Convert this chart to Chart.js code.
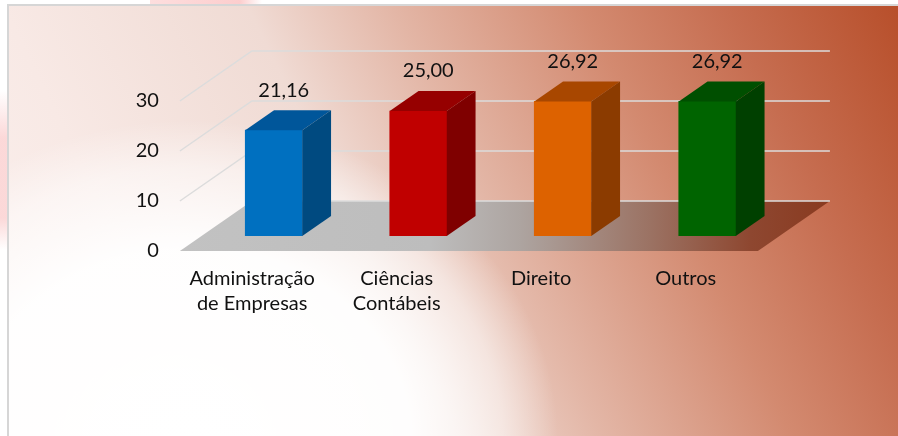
<!DOCTYPE html>
<html>
<head>
<meta charset="utf-8">
<script src="https://cdn.jsdelivr.net/npm/chart.js@4.4.0/dist/chart.umd.min.js"></script>
<style>
  html, body { margin: 0; padding: 0; background: #fff; }
  #wrap { width: 898px; height: 436px; }
</style>
</head>
<body>
<div id="wrap"><canvas id="chart" width="898" height="436"></canvas></div>
<script>
const categories = [['Administração', 'de Empresas'], ['Ciências', 'Contábeis'], ['Direito'], ['Outros']];
const values = [21.16, 25.00, 26.92, 26.92];
const yTicks = [0, 10, 20, 30];

const frontColors = ['#0070c0', '#c00000', '#dd6200', '#006400'];
const topColors = ['#00569a', '#960000', '#a84700', '#004f00'];
const sideColors = ['#004a80', '#7f0000', '#8b3b00', '#004000'];

// 3D offsets relative to the bar plane (chart area)
const FRONT = { dx: -21.6, dy: 15 };
const BACK = { dx: 50.4, dy: -35 };
const DEPTH = { dx: 28.8, dy: -20 };
const FONT = '20px Lato, "Open Sans", sans-serif';

const fmt = v => v.toFixed(2).replace('.', ',');

function poly(ctx, pts, fill) {
    ctx.beginPath();
    ctx.moveTo(pts[0][0], pts[0][1]);
    for (let i = 1; i < pts.length; i++) ctx.lineTo(pts[i][0], pts[i][1]);
    ctx.closePath();
    ctx.fillStyle = fill;
    ctx.fill();
}

const scene = {
    id: 'scene',
    beforeDraw(chart) {
        const { ctx, width: W, height: H } = chart;
        ctx.save();
        ctx.fillStyle = '#fff';
        ctx.fillRect(0, 0, W, H);

        // faint pink shapes outside the frame
        let pg = ctx.createLinearGradient(0, 90, 0, 250);
        pg.addColorStop(0, 'rgba(250,200,200,0)');
        pg.addColorStop(0.3, 'rgba(250,200,200,0.7)');
        pg.addColorStop(0.8, 'rgba(250,200,200,0.7)');
        pg.addColorStop(1, 'rgba(250,200,200,0)');
        ctx.fillStyle = pg;
        ctx.fillRect(0, 90, 7, 160);
        pg = ctx.createLinearGradient(150, 0, 262, 0);
        pg.addColorStop(0, 'rgba(252,200,200,0.6)');
        pg.addColorStop(0.8, 'rgba(252,200,200,0.9)');
        pg.addColorStop(1, 'rgba(252,200,200,0)');
        ctx.fillStyle = pg;
        ctx.fillRect(150, 0, 112, 4);

        // background gradient: light pink to rust towards the top right
        ctx.beginPath();
        ctx.rect(8, 5, W - 8, H - 5);
        ctx.clip();
        const g = ctx.createLinearGradient(-180, 88, 719, -351);
        g.addColorStop(0, '#fbf1ef');
        g.addColorStop(0.2, '#f8e9e5');
        g.addColorStop(0.42, '#f0dbd4');
        g.addColorStop(0.55, '#e3b6a6');
        g.addColorStop(0.72, '#d38a70');
        g.addColorStop(0.85, '#c66d50');
        g.addColorStop(1, '#b8502c');
        ctx.fillStyle = g;
        ctx.fillRect(8, 5, W - 8, H - 5);

        // white glow from the lower left
        ctx.save();
        ctx.translate(190, 440);
        ctx.scale(1.15, 1);
        const rg = ctx.createRadialGradient(0, 0, 0, 0, 0, 320);
        rg.addColorStop(0, 'rgba(255,255,255,1)');
        rg.addColorStop(0.6, 'rgba(255,255,255,0.95)');
        rg.addColorStop(0.85, 'rgba(255,255,255,0.5)');
        rg.addColorStop(1, 'rgba(255,255,255,0)');
        ctx.fillStyle = rg;
        ctx.fillRect(-400, -440, 800, 440);
        ctx.restore();
        ctx.restore();

        ctx.save();
        ctx.strokeStyle = '#d6d6d6';
        ctx.lineWidth = 2;
        ctx.beginPath();
        ctx.moveTo(8, H);
        ctx.lineTo(8, 5);
        ctx.lineTo(W, 5);
        ctx.stroke();
        ctx.restore();
    },
    beforeDatasetsDraw(chart) {
        const { ctx, chartArea: a, scales: { x, y } } = chart;
        const y0 = y.getPixelForValue(0);
        ctx.save();

        // floor
        const fl = [
            [a.left + FRONT.dx, y0 + FRONT.dy], [a.right + FRONT.dx, y0 + FRONT.dy],
            [a.right + BACK.dx, y0 + BACK.dy], [a.left + BACK.dx, y0 + BACK.dy]
        ];
        const fg = ctx.createLinearGradient(fl[0][0], 0, fl[2][0], 0);
        fg.addColorStop(0, '#c2c2c2');
        fg.addColorStop(0.385, '#bdbdbd');
        fg.addColorStop(0.524, '#ada4a0');
        fg.addColorStop(0.724, '#9b7263');
        fg.addColorStop(0.878, '#8e4730');
        fg.addColorStop(1, '#893a20');
        poly(ctx, fl, fg);

        // grid lines on side and back walls
        ctx.strokeStyle = '#dcdcdc';
        ctx.lineWidth = 1.5;
        yTicks.forEach(v => {
            const py = y.getPixelForValue(v);
            ctx.beginPath();
            if (v > 0) {
                ctx.moveTo(a.left + FRONT.dx, py + FRONT.dy);
                ctx.lineTo(a.left + BACK.dx, py + BACK.dy);
            } else {
                ctx.moveTo(a.left + BACK.dx, py + BACK.dy);
            }
            ctx.lineTo(a.right + BACK.dx, py + BACK.dy);
            ctx.stroke();
        });

        // value axis labels
        ctx.font = FONT;
        ctx.fillStyle = '#111';
        ctx.textAlign = 'right';
        ctx.textBaseline = 'middle';
        yTicks.forEach(v => {
            ctx.fillText(String(v), a.left + FRONT.dx - 21, y.getPixelForValue(v) + FRONT.dy);
        });

        // category labels
        ctx.textAlign = 'center';
        categories.forEach((lines, i) => {
            const cx = x.getPixelForValue(i) + FRONT.dx;
            lines.forEach((t, k) => ctx.fillText(t, cx, y0 + 43 + k * 24.5));
        });
        ctx.restore();
    },
    afterDatasetsDraw(chart) {
        const { ctx } = chart;
        const meta = chart.getDatasetMeta(0);
        ctx.save();
        meta.data.forEach((bar, i) => {
            const { x, y, base, width } = bar.getProps(['x', 'y', 'base', 'width'], true);
            const l = x - width / 2, r = x + width / 2;
            poly(ctx, [[l, y], [l + DEPTH.dx, y + DEPTH.dy], [r + DEPTH.dx, y + DEPTH.dy], [r, y]], topColors[i]);
            poly(ctx, [[r, y], [r + DEPTH.dx, y + DEPTH.dy], [r + DEPTH.dx, base + DEPTH.dy], [r, base]], sideColors[i]);

            ctx.font = FONT;
            ctx.fillStyle = '#111';
            ctx.textAlign = 'center';
            ctx.textBaseline = 'middle';
            ctx.fillText(fmt(values[i]), x + 10, y - 40);
        });
        ctx.restore();
    }
};

function draw() {
    new Chart(document.getElementById('chart'), {
        type: 'bar',
        data: {
            labels: categories,
            datasets: [{
                data: values,
                backgroundColor: frontColors,
                borderWidth: 0,
                barThickness: 57
            }]
        },
        options: {
            responsive: false,
            animation: false,
            layout: { padding: { left: 201.5, right: 118.5, top: 86, bottom: 200 } },
            plugins: { legend: { display: false }, tooltip: { enabled: false } },
            scales: {
                x: { display: false },
                y: { display: false, min: 0, max: 30 }
            }
        },
        plugins: [scene]
    });
}

if (document.fonts && document.fonts.load) {
    document.fonts.load(FONT).then(draw, draw);
} else {
    draw();
}
</script>
</body>
</html>
